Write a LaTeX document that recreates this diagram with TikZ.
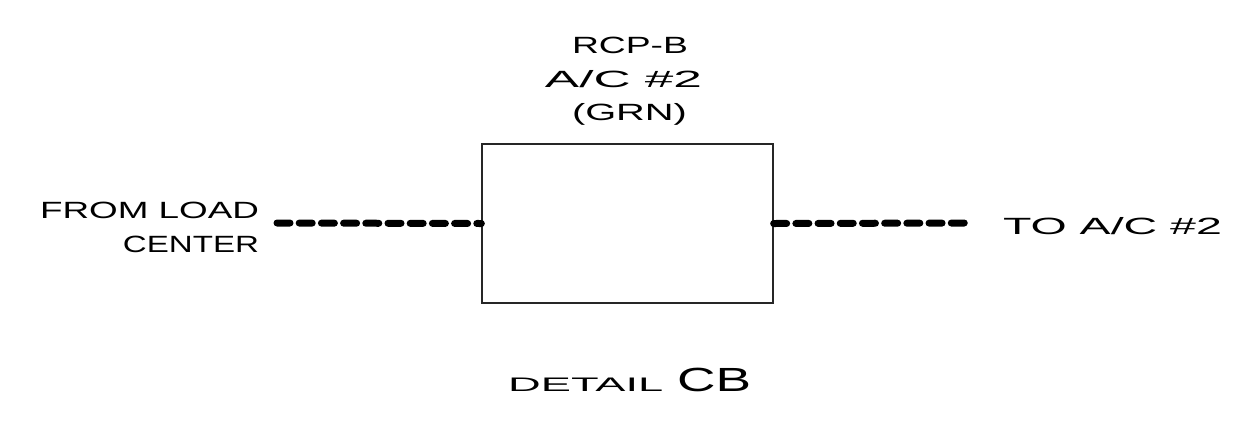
\documentclass[tikz,border=0pt]{standalone}
\usepackage{fontspec}
\usepackage{graphicx}
\setmainfont{Liberation Sans}
\newcommand\wtxt[2]{\resizebox{#1}{\height}{#2}}
\tikzset{
  lbl/.style={inner sep=0pt, outer sep=0pt, font=\fontsize{23.5}{28}\selectfont},
  wire/.style={line width=7pt, line cap=round, dash pattern=on 13pt off 9.2pt},
  cbox/.style={draw=black!85, line width=1.3pt, minimum width=291pt, minimum height=159pt, inner sep=0pt}
}
\begin{document}
\begin{tikzpicture}[x=1pt,y=-1pt]
\useasboundingbox (0,0) rectangle (1243,424);
\node[cbox] (box) at (627.5,223.5) {};
\node[lbl, anchor=base west] (t1) at (40,218) {\wtxt{219pt}{FROM LOAD}};
\node[lbl, anchor=base east] (t2) at (259,252) {\wtxt{136pt}{CENTER}};
\node[lbl, anchor=base west] (t3) at (1003,234) {\wtxt{219pt}{TO A/C \#2}};
\node[lbl, anchor=base] (h1) at (630,53) {\wtxt{116pt}{RCP-B}};
\node[lbl, anchor=base] (h2) at (623.5,87) {\wtxt{157pt}{A/C \#2}};
\node[lbl, anchor=base] (h3) at (629.5,120) {\wtxt{115pt}{(GRN)}};
\node[inner sep=0pt, anchor=base west, font=\fontsize{19.6}{24}\selectfont] (d1) at (508,391) {\wtxt{155pt}{DETAIL}};
\node[inner sep=0pt, anchor=base west, font=\fontsize{33.5}{40}\selectfont] (d2) at (677,391) {\wtxt{74pt}{CB}};
\coordinate (lend) at (277,223);
\coordinate (rend) at (970,223);
\draw[wire] (lend) -- (box.west);
\draw[wire] (box.east) -- (rend);
\end{tikzpicture}
\end{document}
